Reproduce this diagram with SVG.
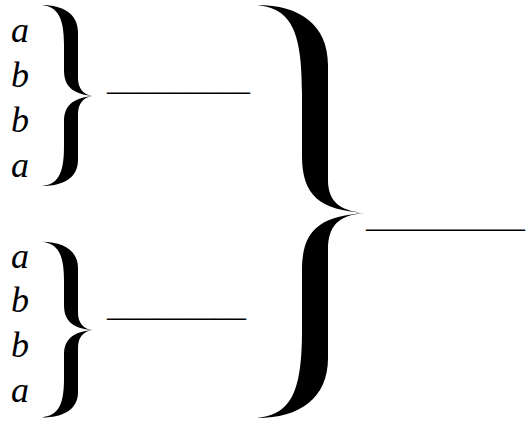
<svg xmlns="http://www.w3.org/2000/svg" width="530" height="421" viewBox="0 0 530 421">
<style>
.v{font-family:"Liberation Serif","Times New Roman",serif;font-style:italic;font-size:36px;fill:#000}
.u{font-family:"Liberation Serif","Times New Roman",serif;font-size:32px;fill:#000}
.br{fill:#000;stroke:none}
</style>
<defs>
<path id="small" d="M 42,5 C 63,5 78,14 78,32 L 78,78 C 78,88 83,95 93,96 C 83,97 78,104 78,114 L 78,160 C 78,178 63,186 42,186 C 57,184 64,176 64,146 L 64,122 C 64,106 72,98 93,96 C 72,94 64,86 64,70 L 64,45 C 64,16 57,7 42,5 Z"/>
</defs>
<rect width="530" height="421" fill="#fff"/>
<g id="group1">
<text class="v" x="11" y="42">a</text>
<text class="v" x="11" y="87">b</text>
<text class="v" x="11" y="132">b</text>
<text class="v" x="11" y="177">a</text>
<use href="#small" class="br"/>
<text class="u" x="107" y="90" textLength="143" lengthAdjust="spacingAndGlyphs">_________</text>
</g>
<g id="group2">
<text class="v" x="11" y="268">a</text>
<text class="v" x="11" y="312">b</text>
<text class="v" x="11" y="357">b</text>
<text class="v" x="11" y="402">a</text>
<use href="#small" class="br" transform="translate(0,237) scale(1,0.97)"/>
<text class="u" x="107" y="316" textLength="139" lengthAdjust="spacingAndGlyphs">_________</text>
</g>
<g id="group3">
<path class="br" d="M 257,5 C 300,5 328,25 328,65 L 328,180 C 328,200 338,211 365,213 C 338,215 328,226 328,250 L 328,358 C 328,398 300,418 257,418 C 290,414 302,395 302,330 L 302,270 C 302,230 320,216 365,213 C 320,210 302,196 302,156 L 302,93 C 302,28 290,9 257,5 Z"/>
<text class="u" x="366" y="227" textLength="159" lengthAdjust="spacingAndGlyphs">__________</text>
</g>
</svg>
